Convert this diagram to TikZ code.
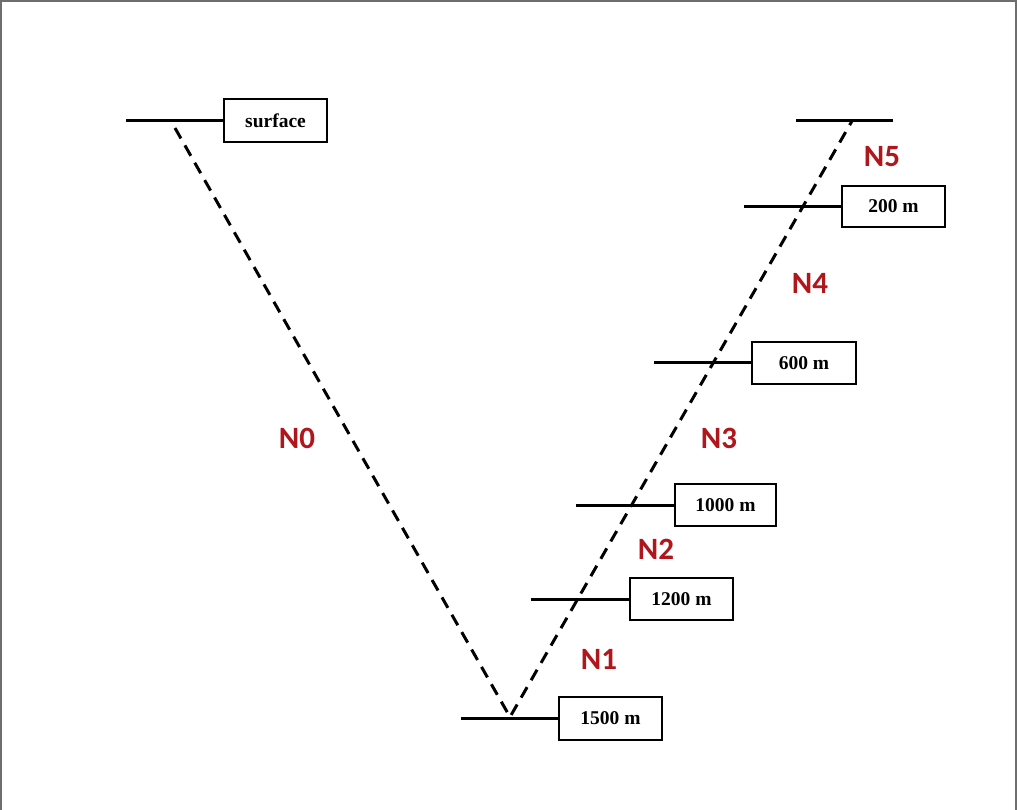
\documentclass[tikz,border=0pt]{standalone}
\usepackage{fontspec}
\setmainfont{Liberation Serif}
\newfontfamily\labfont{Carlito}
\definecolor{nred}{RGB}{176,22,28}
\definecolor{frame}{RGB}{110,110,110}
\begin{document}
\begin{tikzpicture}[x=1pt,y=-1pt,
  depthbox/.style={draw,line width=1.4pt,rectangle,inner sep=0pt,font=\fontsize{19.5}{22}\selectfont\bfseries},
  tick/.style={line width=3pt},
  well/.style={line width=3pt,dash pattern=on 12pt off 8pt},
  zone/.style={text=nred,font=\labfont\fontsize{31}{35}\selectfont\bfseries}]
\useasboundingbox (0,0) rectangle (1018,810);
\draw[frame,line width=1.5pt] (1,810) -- (1,1) -- (1016,1) -- (1016,810);
% boxes
\node[depthbox,minimum width=103pt,minimum height=43pt] (surf) at (275.5,120.5) {surface};
\node[depthbox,minimum width=103pt,minimum height=41pt] (d200) at (893.5,206.5) {200 m};
\node[depthbox,minimum width=104pt,minimum height=42pt] (d600) at (804,363) {600 m};
\node[depthbox,minimum width=101pt,minimum height=42pt] (d1000) at (725.5,505) {1000 m};
\node[depthbox,minimum width=103pt,minimum height=42pt] (d1200) at (681.5,599) {1200 m};
\node[depthbox,minimum width=103pt,minimum height=43pt] (d1500) at (610.5,718.5) {1500 m};
% free ends
\coordinate (s0) at (126,120.5);
\coordinate (t5a) at (796,121);
\coordinate (t5b) at (893,121);
\coordinate (t200) at (744,206.5);
\coordinate (t600) at (654,363);
\coordinate (t1000) at (576,505);
\coordinate (t1200) at (531,599);
\coordinate (t1500) at (461,718.5);
\coordinate (top) at (175,128);
\coordinate (bot) at (510,717);
\coordinate (topr) at (852,121);
% ticks
\draw[tick] (s0) -- (surf.west);
\draw[tick] (t5a) -- (t5b);
\draw[tick] (t200) -- (d200.west);
\draw[tick] (t600) -- (d600.west);
\draw[tick] (t1000) -- (d1000.west);
\draw[tick] (t1200) -- (d1200.west);
\draw[tick] (t1500) -- (d1500.west);
% well path
\draw[well] (top) -- (bot) -- (topr);
% zone labels
\node[zone] (n0) at (297,438) {N0};
\node[zone] (n1) at (599,659) {N1};
\node[zone] (n2) at (656,549) {N2};
\node[zone] (n3) at (719,438) {N3};
\node[zone] (n4) at (810,283) {N4};
\node[zone] (n5) at (882,157) {N5};
\end{tikzpicture}
\end{document}
